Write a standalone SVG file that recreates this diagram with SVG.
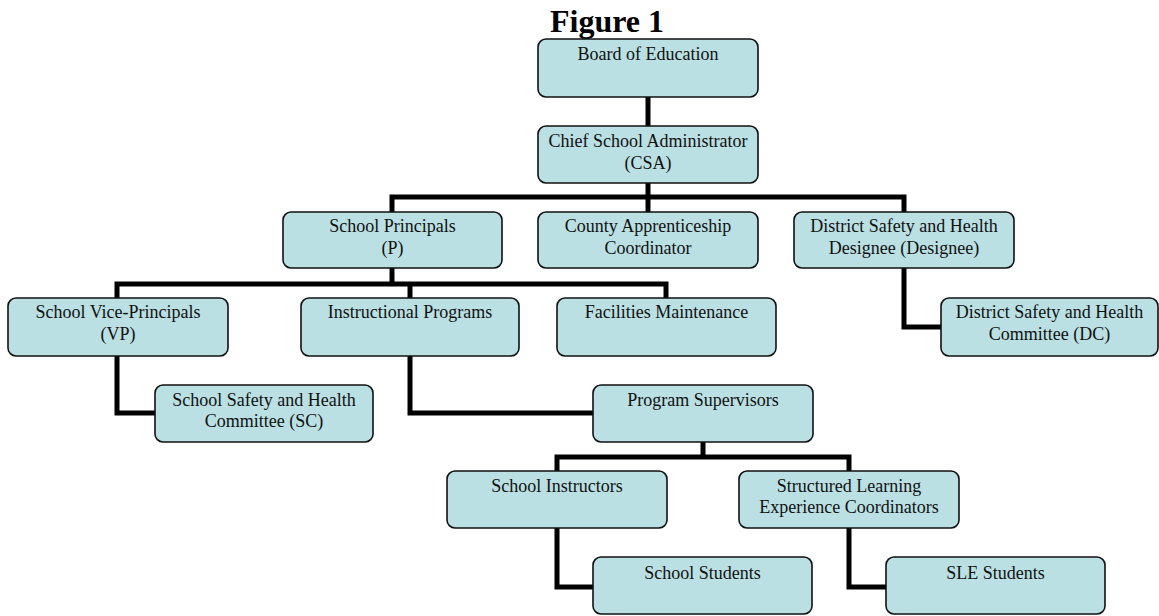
<svg xmlns="http://www.w3.org/2000/svg" width="1159" height="616" viewBox="0 0 1159 616">
<style>
.box{fill:#bae0e3;stroke:#111;stroke-width:1.6}
.t{font-family:"Liberation Serif","Times New Roman",serif;font-size:18px;fill:#111;text-anchor:middle}
.c{fill:none;stroke:#000;stroke-width:5;stroke-linejoin:miter;stroke-linecap:butt}
.title{font-family:"Liberation Serif","Times New Roman",serif;font-size:32px;font-weight:bold;fill:#000}
</style>
<rect width="1159" height="616" fill="#fff"/>
<text class="title" x="550" y="32">Figure 1</text>
<g id="connectors">
<path class="c" d="M648,97 V126"/>
<path class="c" d="M648,183 V212"/>
<path class="c" d="M392,212 V197 H904 V212"/>
<path class="c" d="M392,268 V284"/>
<path class="c" d="M117,298 V284 H666 V298"/>
<path class="c" d="M410,284 V298"/>
<path class="c" d="M117,356 V413 H155"/>
<path class="c" d="M410,356 V413 H593"/>
<path class="c" d="M904,268 V327 H941"/>
<path class="c" d="M703,442 V457"/>
<path class="c" d="M557,471 V457 H849 V471"/>
<path class="c" d="M557,528 V587 H593"/>
<path class="c" d="M849,528 V587 H886"/>
</g>
<g id="board">
<rect class="box" x="538" y="39" width="220" height="58" rx="8"/>
<text class="t" x="648" y="60">Board of Education</text>
</g>
<g id="csa">
<rect class="box" x="538" y="126" width="220" height="57" rx="8"/>
<text class="t" x="648" y="147">Chief School Administrator</text>
<text class="t" x="648" y="169">(CSA)</text>
</g>
<g id="principals">
<rect class="box" x="283" y="212" width="219" height="56" rx="8"/>
<text class="t" x="392.5" y="232">School Principals</text>
<text class="t" x="392.5" y="254">(P)</text>
</g>
<g id="apprenticeship">
<rect class="box" x="538" y="212" width="220" height="56" rx="8"/>
<text class="t" x="648" y="232">County Apprenticeship</text>
<text class="t" x="648" y="254">Coordinator</text>
</g>
<g id="designee">
<rect class="box" x="794" y="212" width="220" height="56" rx="8"/>
<text class="t" x="904" y="232">District Safety and Health</text>
<text class="t" x="904" y="254">Designee (Designee)</text>
</g>
<g id="vice-principals">
<rect class="box" x="8" y="298" width="220" height="58" rx="8"/>
<text class="t" x="118" y="318">School Vice-Principals</text>
<text class="t" x="118" y="340">(VP)</text>
</g>
<g id="instructional">
<rect class="box" x="301" y="298" width="218" height="58" rx="8"/>
<text class="t" x="410" y="318">Instructional Programs</text>
</g>
<g id="facilities">
<rect class="box" x="557" y="298" width="219" height="58" rx="8"/>
<text class="t" x="666.5" y="318">Facilities Maintenance</text>
</g>
<g id="district-committee">
<rect class="box" x="941" y="298" width="217" height="58" rx="8"/>
<text class="t" x="1049.5" y="318">District Safety and Health</text>
<text class="t" x="1049.5" y="340">Committee (DC)</text>
</g>
<g id="school-committee">
<rect class="box" x="155" y="385" width="218" height="57" rx="8"/>
<text class="t" x="264" y="406">School Safety and Health</text>
<text class="t" x="264" y="427">Committee (SC)</text>
</g>
<g id="supervisors">
<rect class="box" x="593" y="385" width="220" height="57" rx="8"/>
<text class="t" x="703" y="406">Program Supervisors</text>
</g>
<g id="instructors">
<rect class="box" x="447" y="471" width="220" height="57" rx="8"/>
<text class="t" x="557" y="492">School Instructors</text>
</g>
<g id="sle-coordinators">
<rect class="box" x="739" y="471" width="220" height="57" rx="8"/>
<text class="t" x="849" y="492">Structured Learning</text>
<text class="t" x="849" y="513">Experience Coordinators</text>
</g>
<g id="school-students">
<rect class="box" x="593" y="557" width="219" height="57" rx="8"/>
<text class="t" x="702.5" y="579">School Students</text>
</g>
<g id="sle-students">
<rect class="box" x="886" y="557" width="219" height="57" rx="8"/>
<text class="t" x="995.5" y="579">SLE Students</text>
</g>
</svg>
